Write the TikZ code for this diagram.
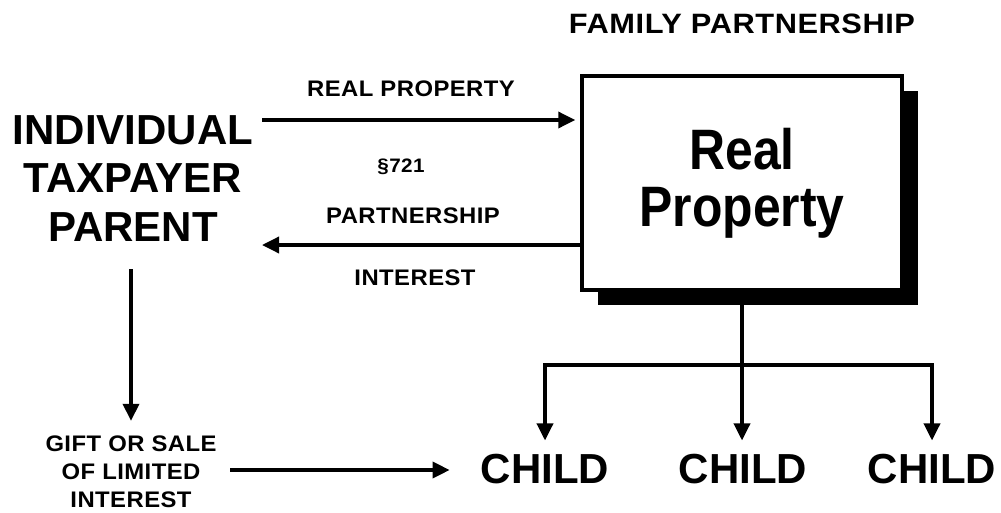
\documentclass[tikz,border=0pt]{standalone}
\usepackage{fontspec}
\setmainfont{Liberation Sans}
\newfontfamily\widef[FakeStretch=1.06,LetterSpace=2]{Liberation Sans}
\newfontfamily\famf[FakeStretch=1.1,LetterSpace=2]{Liberation Sans}
\newfontfamily\narrowf[FakeStretch=0.875]{Liberation Sans}
\usetikzlibrary{arrows.meta,shadows}
\begin{document}
\begin{tikzpicture}[x=1pt,y=-1pt,
  big/.style={font=\fontsize{42}{48.5}\selectfont\bfseries, inner sep=0pt, align=center},
  small/.style={font=\widef\fontsize{22.5}{28}\selectfont\bfseries, inner sep=0pt, align=center},
  conn/.style={line width=3.5pt, line join=miter},
  arr/.style={conn, -{Triangle[length=17pt,width=16pt]}},
  bigbox/.style={draw, line width=3.5pt, fill=white, minimum width=320pt, minimum height=214pt,
    inner sep=0pt, align=center,
    font=\narrowf\fontsize{57}{57}\selectfont\bfseries,
    drop shadow={shadow xshift=16pt, shadow yshift=-15pt, opacity=1, fill=black}}
]
\useasboundingbox (0,0) rectangle (1001,512);

% nodes
\node[small, anchor=base, font=\famf\fontsize{28}{30}\selectfont\bfseries] (fam) at (742,33) {FAMILY PARTNERSHIP};
\node[bigbox] (box) at (742,183) {Real\\Property};
\node[big] (parent) at (133,178.5) {INDIVIDUAL\\TAXPAYER\\PARENT};
\node[small, anchor=base] (lrp) at (411,96) {REAL PROPERTY};
\node[small, anchor=base, font=\widef\fontsize{19.5}{22}\selectfont\bfseries] (l721) at (401,172) {§721};
\node[small, anchor=base] (lpart) at (413,223) {PARTNERSHIP};
\node[small, anchor=base] (lint) at (415,285) {INTEREST};
\node[small] (gift) at (131,472) {GIFT OR SALE\\OF LIMITED\\INTEREST};
\node[big, anchor=base] (c1) at (545,483) {CHILD};
\node[big, anchor=base] (c2) at (743,483) {CHILD};
\node[big, anchor=base] (c3) at (932,483) {CHILD};

% connectors
\coordinate (rpStart) at (262,120);
\draw[arr, shorten >=5pt] (rpStart) -- (box.west |- rpStart);
\coordinate (piEnd) at (262,245);
\draw[arr] (box.west |- piEnd) -- (piEnd);
\coordinate (dStart) at (131,269);
\draw[arr, shorten >=15pt] (dStart) -- (dStart |- gift.north);
\coordinate (gStart) at (230,470);
\draw[arr, shorten >=31pt] (gStart) -- (gStart -| c1.west);
\coordinate (bar) at (742,365);
\draw[arr, shorten >=13pt] (box.south) -- (box.south |- c2.north);
\draw[arr, shorten >=13pt] (bar) -| (c1.north);
\draw[arr, shorten >=13pt] (bar) -| (c3.north);
\end{tikzpicture}
\end{document}
